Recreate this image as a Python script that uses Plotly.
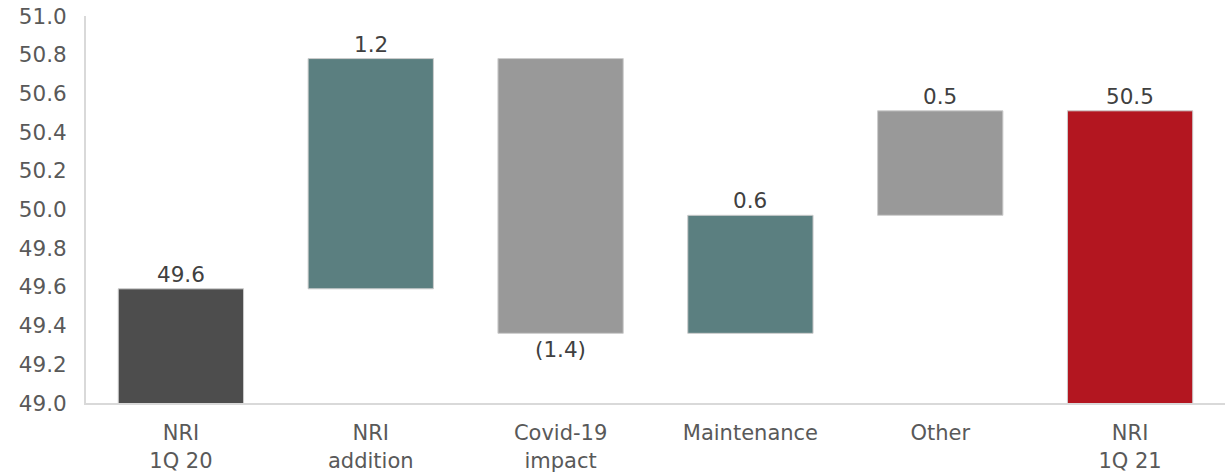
import plotly.graph_objects as go

categories = ["NRI<br>1Q 20", "NRI<br>addition", "Covid-19<br>impact", "Maintenance", "Other", "NRI<br>1Q 21"]
start_value = 49.59
deltas = [1.19, -1.42, 0.61, 0.54]
value_labels = ["49.6", "1.2", "(1.4)", "0.6", "0.5", "50.5"]
bar_colors = ["#4d4d4d", "#5b7f80", "#999999", "#5b7f80", "#999999", "#b31620"]
y_ticks = [49.0, 49.2, 49.4, 49.6, 49.8, 50.0, 50.2, 50.4, 50.6, 50.8, 51.0]

y_min, y_max = 49.0, 51.0
total_base = y_min - 0.015

# build floating bars from the waterfall steps
bases, heights = [], []
bases.append(total_base)
heights.append(start_value - total_base)
level = start_value
for d in deltas:
    lo = min(level, level + d)
    bases.append(lo)
    heights.append(abs(d))
    level += d
bases.append(total_base)
heights.append(level - total_base)

tops = [b + h for b, h in zip(bases, heights)]
steps = [start_value] + deltas + [level]

FONT = "DejaVu Sans"
FS = 21.5
XFS = 21

fig = go.Figure()
fig.add_trace(go.Bar(
    x=categories, y=heights, base=bases,
    marker=dict(color=bar_colors, line=dict(color="#cccccc", width=1)),
    width=0.66, cliponaxis=False, hoverinfo="skip",
))

for cat, top, base, step, lab in zip(categories, tops, bases, steps, value_labels):
    if step >= 0:
        fig.add_annotation(x=cat, y=top, text=lab, showarrow=False,
                           yanchor="bottom", yshift=0,
                           font=dict(family=FONT, size=FS, color="#404040"))
    else:
        fig.add_annotation(x=cat, y=base, text=lab, showarrow=False,
                           yanchor="top", yshift=-2,
                           font=dict(family=FONT, size=FS, color="#404040"))

fig.update_layout(
    width=1225, height=473,
    margin=dict(l=86, r=0, t=16, b=70),
    paper_bgcolor="white", plot_bgcolor="white",
    showlegend=False,
    font=dict(family=FONT, size=FS, color="#595959"),
)
fig.update_xaxes(
    showline=True, linecolor="#d9d9d9", linewidth=2,
    ticks="outside", ticklen=10, tickcolor="rgba(0,0,0,0)",
    tickfont=dict(family=FONT, size=XFS, color="#595959"),
    showgrid=False, zeroline=False, layer="above traces",
    automargin=False, ticklabeloverflow="allow",
)
fig.update_yaxes(
    range=[y_min, y_max], tickvals=y_ticks, tickformat=".1f",
    showline=True, linecolor="#d9d9d9", linewidth=2,
    ticks="outside", ticklen=13, tickcolor="rgba(0,0,0,0)",
    tickfont=dict(family=FONT, size=FS, color="#595959"),
    showgrid=False, zeroline=False, layer="above traces",
    automargin=False, ticklabeloverflow="allow",
)

fig.write_html(
    "out.html",
    config={"displayModeBar": False},
    post_script="document.body.style.margin='0';document.body.style.overflow='hidden';",
)
